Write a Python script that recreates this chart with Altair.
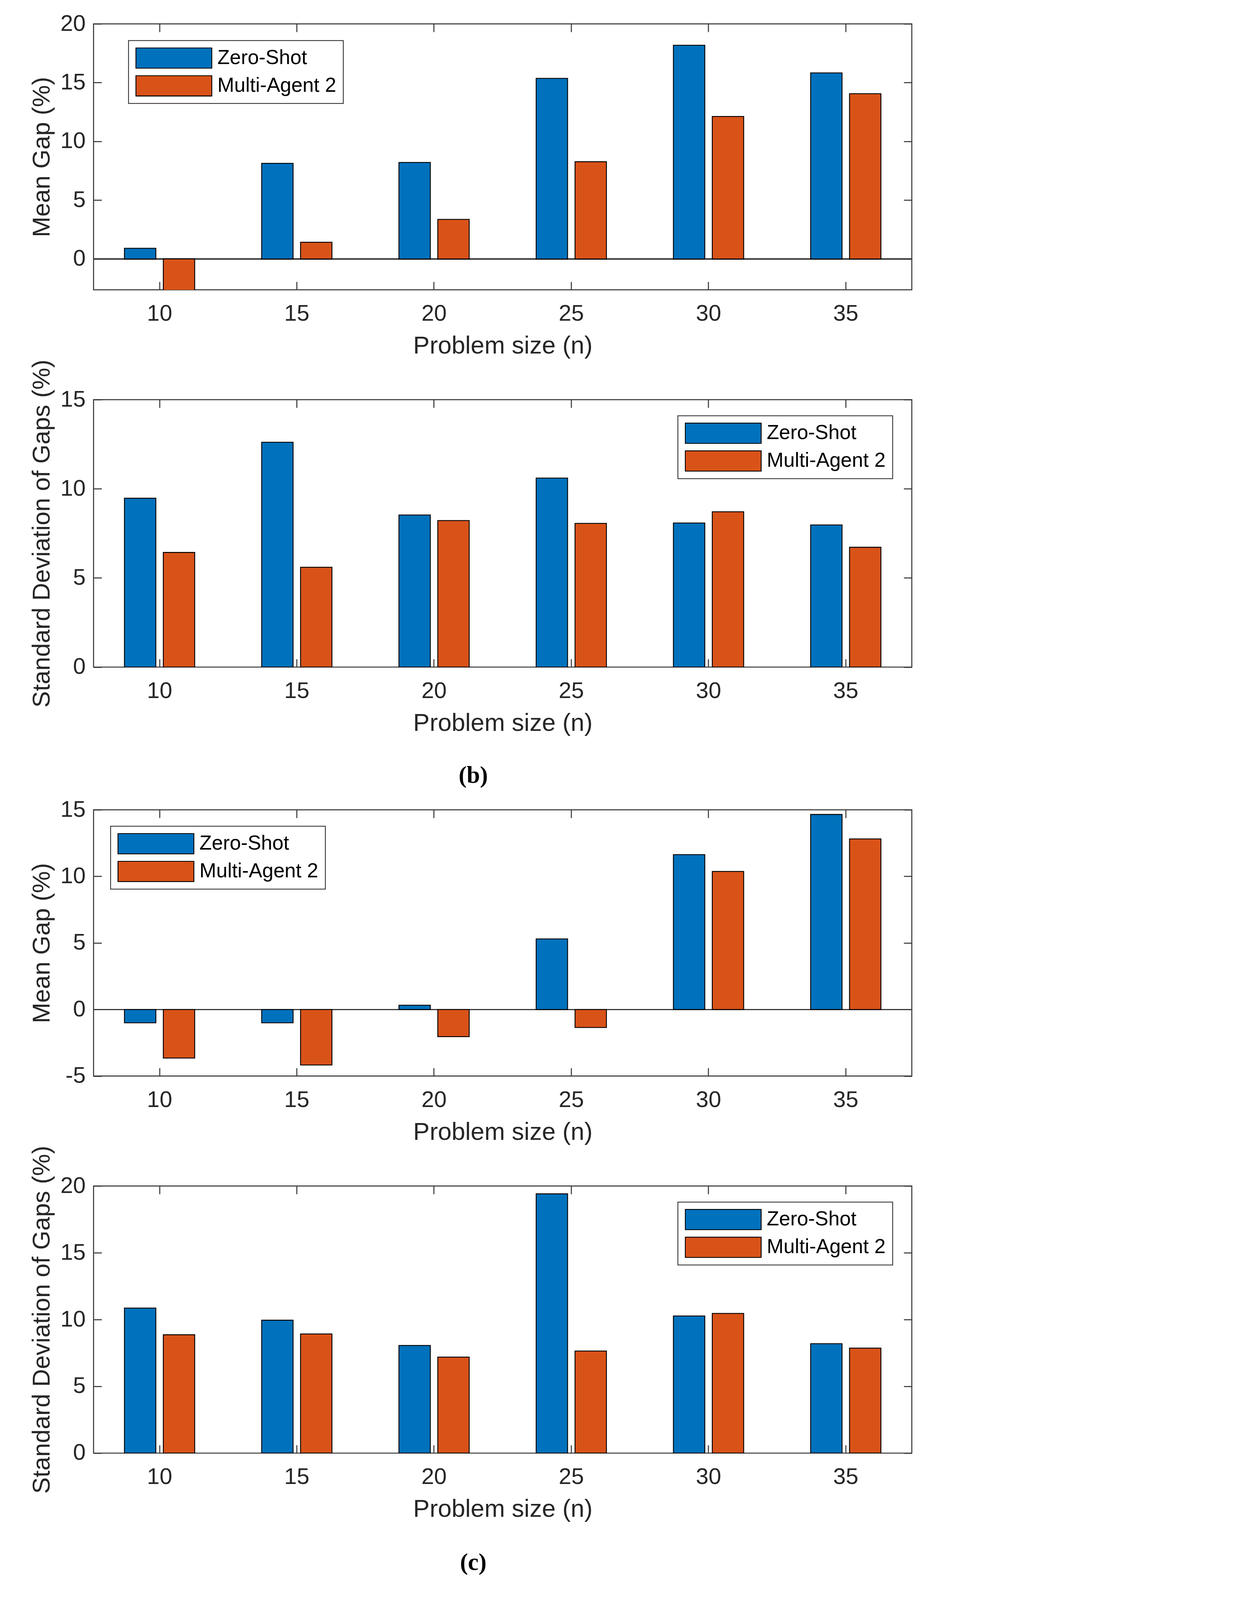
import altair as alt
import pandas as pd

# ---------------- data ----------------
SIZES = ["10", "15", "20", "25", "30", "35"]
SERIES = ["Zero-Shot", "Multi-Agent 2"]

B_MEAN_ZERO = [0.90, 8.13, 8.21, 15.36, 18.18, 15.83]
B_MEAN_MULTI = [-2.70, 1.42, 3.36, 8.27, 12.12, 14.06]
B_STD_ZERO = [9.47, 12.61, 8.53, 10.60, 8.08, 7.97]
B_STD_MULTI = [6.43, 5.60, 8.22, 8.06, 8.71, 6.72]
C_MEAN_ZERO = [-1.00, -1.00, 0.32, 5.30, 11.63, 14.65]
C_MEAN_MULTI = [-3.65, -4.17, -2.04, -1.35, 10.37, 12.81]
C_STD_ZERO = [10.86, 9.95, 8.06, 19.41, 10.27, 8.19]
C_STD_MULTI = [8.86, 8.92, 7.19, 7.64, 10.46, 7.86]

X_TITLE = "Problem size (n)"
Y_MEAN = "Mean Gap (%)"
Y_STD = "Standard Deviation of Gaps (%)"
CAPTIONS = ["(b)", "(c)"]

# ---------------- style ----------------
F = 0.765  # overall scale so that the whole figure fits in the photographed area
FONT = "Liberation Sans, Arial, Helvetica, sans-serif"
SERIF = "Liberation Serif, Times New Roman, serif"
BLUE = "#0072BD"
ORANGE = "#D95319"
FRAME = "#3a3a3a"
TEXT = "#262626"
W = 2739 * F
TICK = 27 * F
LW = 3.5 * F


def make_legend(lx, ly):
    return alt.Legend(
        title=None,
        orient="none",
        direction="vertical",
        legendX=lx * F,
        legendY=ly * F,
        symbolType="M-1,-0.268H1V0.268H-1Z",
        symbolSize=(254 * F) ** 2,
        symbolStrokeColor="black",
        symbolStrokeWidth=3 * F,
        symbolOpacity=1,
        clipHeight=71 * F,
        rowPadding=21 * F,
        labelOffset=17 * F,
        labelFont=FONT,
        labelFontSize=67.5 * F,
        labelColor="black",
        labelLimit=1000,
        fillColor="white",
        strokeColor=FRAME,
        padding=23 * F,
        cornerRadius=0,
    )


def panel(zero_vals, multi_vals, ytitle, ydomain, yticks, height, lx, ly, zero_line):
    df = pd.DataFrame({
        "size": SIZES * 2,
        "series": [SERIES[0]] * len(SIZES) + [SERIES[1]] * len(SIZES),
        "value": list(zero_vals) + list(multi_vals),
    })
    xs = alt.Scale(paddingInner=0.488, paddingOuter=0.225)
    ys = alt.Scale(domain=ydomain, nice=False, zero=False)
    base = alt.Chart(df)
    bars = base.mark_bar(stroke="black", strokeWidth=3 * F, clip=True).encode(
        x=alt.X("size:O", sort=SIZES, scale=xs,
                axis=alt.Axis(orient="bottom", title=X_TITLE, labelAngle=0,
                              labelPadding=43 * F, titlePadding=30 * F)),
        xOffset=alt.XOffset("series:N", sort=SERIES,
                            scale=alt.Scale(paddingInner=0.192, paddingOuter=0)),
        y=alt.Y("value:Q", scale=ys, stack=None,
                axis=alt.Axis(orient="left", title=ytitle, values=yticks,
                              labelExpr="datum.value", labelPadding=27 * F,
                              titlePadding=19 * F)),
        color=alt.Color("series:N", sort=SERIES,
                        scale=alt.Scale(domain=SERIES, range=[BLUE, ORANGE]),
                        legend=make_legend(lx, ly)),
    )
    ticks = base.mark_point(opacity=0).encode(
        x=alt.X("size:O", sort=SIZES, scale=xs,
                axis=alt.Axis(orient="top", labels=False, title=None)),
        y=alt.Y("value:Q", scale=ys,
                axis=alt.Axis(orient="right", values=yticks, labels=False, title=None)),
    )
    layers = []
    if zero_line:
        layers.append(base.mark_rule(color=FRAME, strokeWidth=LW).encode(
            y=alt.YDatum(0, scale=ys, axis=None)))
    layers += [bars, ticks]
    return alt.layer(*layers).resolve_axis(x="independent", y="independent").properties(
        width=W, height=height * F)


def spacer(height, caption, cy):
    return alt.Chart(pd.DataFrame({"t": [caption]})).mark_text(
        font=SERIF, fontSize=80 * F, fontWeight="bold", color="black",
        baseline="alphabetic", align="center",
    ).encode(
        text="t:N", x=alt.value(1271 * F), y=alt.value(cy * F)
    ).properties(width=W, height=height * F,
                 view=alt.ViewBackground(stroke="transparent"))


p1 = panel(B_MEAN_ZERO, B_MEAN_MULTI, Y_MEAN, [-2.63, 20], [0, 5, 10, 15, 20], 890, 117, 56, True)
p2 = panel(B_STD_ZERO, B_STD_MULTI, Y_STD, [0, 15], [0, 5, 10, 15], 895, 1956, 54, False)
p3 = panel(C_MEAN_ZERO, C_MEAN_MULTI, Y_MEAN, [-5, 15], [-5, 0, 5, 10, 15], 891, 57, 55, True)
p4 = panel(C_STD_ZERO, C_STD_MULTI, Y_STD, [0, 20], [0, 5, 10, 15, 20], 894, 1956, 54, False)

s1 = spacer(367, "", 0)
s2 = spacer(476, CAPTIONS[0], 387)
s3 = spacer(367, "", 0)
s4 = spacer(420, CAPTIONS[1], 391)

chart = alt.vconcat(
    p1, s1, p2, s2, p3, s3, p4, s4, spacing=0, bounds="flush"
).resolve_scale(
    x="independent", y="independent", color="independent"
).properties(
    padding={"left": 97.5 * F - 8, "top": 38 * F - 8, "right": 10, "bottom": 5}
).configure_view(
    stroke=FRAME, strokeWidth=LW
).configure_axis(
    offset=-TICK, domain=False, grid=False, ticks=True,
    tickSize=TICK, tickWidth=LW, tickColor=FRAME,
    labelFont=FONT, labelFontSize=76 * F, labelColor=TEXT, labelLimit=1000,
    titleFont=FONT, titleFontSize=82.5 * F, titleFontWeight="normal", titleColor=TEXT,
    titleLimit=3000,
).configure_legend(
    strokeWidth=3 * F,
)

chart.save("out.html", embed_options={"renderer": "svg", "actions": False})
